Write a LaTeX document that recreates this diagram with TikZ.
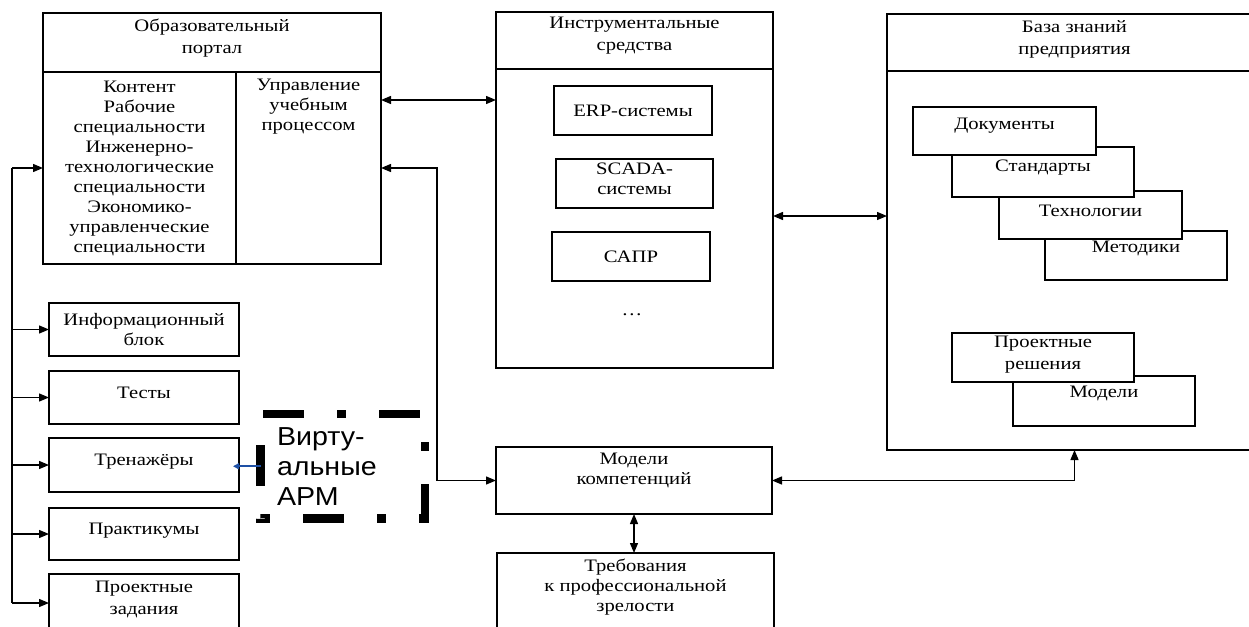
\documentclass[tikz,border=0pt]{standalone}
\usepackage{fontspec}
\setmainfont{Liberation Serif}[FakeStretch=1.18]
\newfontfamily\armfont{Liberation Sans}[FakeStretch=1.1]
\usetikzlibrary{arrows.meta}
\definecolor{armblue}{RGB}{30,80,165}
\newcommand\boxfont{\fontsize{17.5}{20}\selectfont}

\begin{document}
\begin{tikzpicture}[x=1pt,y=-1pt,line width=1.3pt,>={Triangle[length=10pt,width=8pt]},
    box/.style={draw,fill=white,inner sep=0pt,outer sep=0pt,align=center,font=\boxfont},
    sz/.style 2 args={minimum width=#1pt,minimum height=#2pt},
    lbl/.style={inner sep=0pt,align=center,font=\boxfont},
    tx/.style 2 args={label={[lbl,yshift=#1pt]center:{#2}}}]
  \useasboundingbox (0,0) rectangle (1249,626);

  % portal
  \node[box,sz={338}{59},tx={4.5}{Образовательный\\[2pt]портал}] (ph) at (212,42.5) {};
  \node[box,sz={193}{192}] (pl) at (139.5,168) {Контент\\Рабочие\\специальности\\Инженерно-\\технологические\\специальности\\Экономико-\\управленческие\\специальности};
  \node[box,sz={145}{192},tx={61}{Управление\\учебным\\процессом}] (pr) at (308.5,168) {};

  % tools
  \node[box,sz={277}{57},tx={4.5}{Инструментальные\\[2pt]средства}] (ih) at (634.5,40.5) {};
  \node[box,sz={277}{299}] (ib) at (634.5,218.5) {};
  \node[box,sz={158}{49}] (erp) at (633,110.5) {ERP-системы};
  \node[box,sz={157}{49},tx={5}{SCADA-\\системы}] (scada) at (634.5,183.5) {};
  \node[box,sz={158}{49}] (sapr) at (631,256.5) {САПР};
  \node[lbl] (etc) at (632,315) {…};

  % knowledge base
  \node[box,sz={375}{57},tx={3.5}{База знаний\\[2pt]предприятия}] (kh) at (1074.5,42.5) {};
  \node[box,sz={375}{379}] (kb) at (1074.5,260.5) {};
  \node[box,sz={182}{49},tx={7}{Методики}] (met) at (1136,255.5) {};
  \node[box,sz={183}{48},tx={4}{Технологии}] (tech) at (1090.5,215) {};
  \node[box,sz={182}{50},tx={4}{Стандарты}] (std) at (1043,172) {};
  \node[box,sz={183}{48},tx={5}{Документы}] (doc) at (1004.5,131) {};
  \node[box,sz={182}{50},tx={8}{Модели}] (mdl) at (1104,401) {};
  \node[box,sz={182}{49},tx={3}{Проектные\\[2pt]решения}] (proj) at (1043,357.5) {};

  % left column
  \node[box,sz={190}{53}] (info) at (144,329.5) {Информационный\\блок};
  \node[box,sz={190}{53},tx={5}{Тесты}] (test) at (144,397.5) {};
  \node[box,sz={190}{54},tx={3}{Тренажёры}] (tren) at (144,465) {};
  \node[box,sz={190}{52},tx={3}{Практикумы}] (prak) at (144,534) {};
  \node[box,sz={190}{58},tx={4}{Проектные\\[2pt]задания}] (zad) at (144,603) {};

  \node[box,sz={276}{67},tx={10}{Модели\\компетенций}] (mod) at (634,480.5) {};
  \node[box,sz={277}{87},tx={9}{Требования\\к профессиональной\\зрелости}] (req) at (635.5,596.5) {};

  \node[inner sep=0pt,outer sep=0pt,sz={164.5}{104.5},text width=131.5pt,align=left,font=\armfont\fontsize{26}{30}\selectfont] (arm) at (342.75,466.25) {Вирту-\\альные\\АРМ};
  \draw[line width=8.5pt,dash pattern=on 41pt off 33pt on 9pt off 33pt,dash phase=113.5pt]
    (arm.north west) -- (arm.north east) -- (arm.south east) -- (arm.south west) -- cycle;

  \coordinate (bus) at (12,168);
  \coordinate (r1) at (0,100);
  \coordinate (r2) at (0,216);
  \draw[->] (bus) -- (pl.west);
  \draw (bus) -- (bus |- zad.west);
  \foreach \b in {info,test,tren,prak,zad}
    \draw[->] (bus |- \b.west) -- (\b.west);
  \draw[<->] (pr.east |- r1) -- (ib.west |- r1);
  \draw[<->] (ib.east |- r2) -- (kb.west |- r2);
  \draw[<->] (pr.east |- bus) -- ++(56,0) |- (mod.west);
  \draw[<->] (mod.east) -| (kb.south);
  \draw[<->] (mod.south) -- (mod.south |- req.north);
  \draw[->,armblue,line width=2pt,>={Triangle[length=6pt,width=6pt]},shorten >=-6pt] (arm.west) -- (arm.west -| tren.east);
\end{tikzpicture}
\end{document}
